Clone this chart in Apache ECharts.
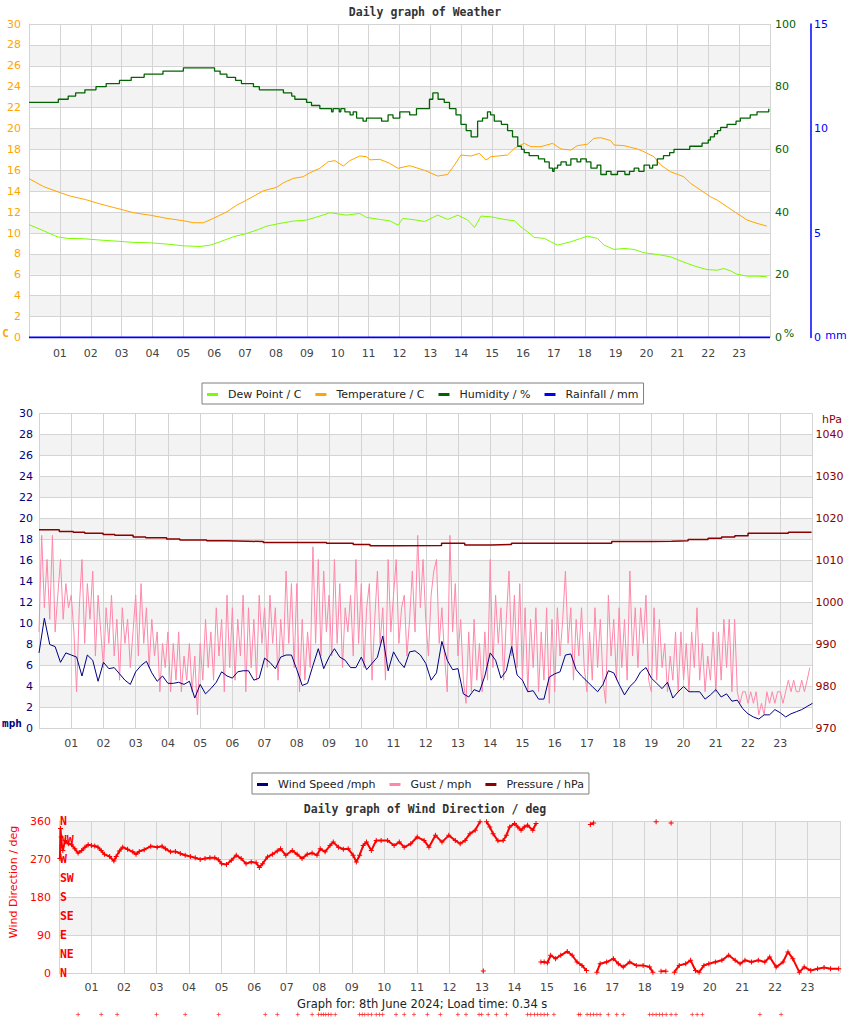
<!DOCTYPE html>
<html><head><meta charset="utf-8">
<script src="https://cdn.jsdelivr.net/npm/echarts@6/dist/echarts.min.js"></script>
<style>html,body{margin:0;padding:0;background:#fff}#c{width:850px;height:1017px}</style>
</head><body><div id="c"></div>
<script>
// ---------------- DATA ----------------
const hourLabels = ['01','02','03','04','05','06','07','08','09','10','11','12','13','14','15','16','17','18','19','20','21','22','23'];
const compassLabels = ['N','NE','E','SE','S','SW','W','NW','N'];

// Panel 1 (hour, value)
const temperature = [[0,15.2],[0.48,14.43],[1.02,13.85],[1.34,13.53],[1.83,13.2],[2.31,12.77],[2.85,12.36],[3.39,11.94],[3.93,11.7],[4.47,11.4],[5.01,11.17],[5.33,10.98],[5.65,10.98],[5.97,11.4],[6.41,12.03],[6.73,12.67],[7.05,13.15],[7.59,14.04],[8.02,14.37],[8.24,14.81],[8.56,15.23],[8.88,15.38],[9.1,15.77],[9.42,16.19],[9.69,16.82],[9.91,16.92],[10.18,16.41],[10.39,16.92],[10.71,17.37],[10.93,17.3],[11.04,17.0],[11.36,17.05],[11.68,16.67],[11.95,16.19],[12.33,16.44],[12.81,16.0],[13.24,15.45],[13.56,15.6],[13.78,16.5],[13.99,17.46],[14.32,17.37],[14.59,17.62],[14.8,16.98],[14.96,17.3],[15.5,17.46],[15.72,18.1],[15.93,18.42],[16.04,18.58],[16.26,18.26],[16.58,18.26],[16.96,18.58],[17.23,18.04],[17.55,17.94],[17.76,18.36],[18.09,18.5],[18.3,19.06],[18.52,19.12],[18.84,18.84],[18.95,18.42],[19.27,18.36],[19.7,18.04],[19.92,17.78],[20.24,17.3],[20.46,16.5],[20.78,15.86],[21.21,15.38],[21.43,14.75],[21.75,14.11],[22.07,13.47],[22.29,13.15],[22.61,12.51],[22.93,11.88],[23.26,11.24],[23.58,10.92],[23.9,10.66]];
const dewPoint = [[0,10.8],[0.48,10.21],[0.91,9.64],[1.24,9.48],[1.77,9.45],[2.31,9.32],[2.85,9.22],[3.39,9.1],[3.93,9.06],[4.47,8.94],[5.01,8.77],[5.54,8.71],[5.87,8.84],[6.19,9.16],[6.62,9.64],[7.05,9.96],[7.38,10.28],[7.7,10.66],[8.13,10.92],[8.56,11.14],[8.99,11.24],[9.42,11.62],[9.75,11.94],[10.28,11.71],[10.71,11.87],[10.93,11.49],[11.36,11.3],[11.68,11.17],[11.95,10.76],[12.11,11.4],[12.54,11.24],[12.81,11.1],[13.24,11.71],[13.56,11.3],[13.89,11.71],[14.21,11.24],[14.43,10.53],[14.64,11.62],[14.96,11.55],[15.39,11.3],[15.72,11.17],[15.93,10.6],[16.15,10.11],[16.36,9.58],[16.69,9.48],[16.9,9.16],[17.12,8.84],[17.33,9.0],[17.55,9.16],[17.87,9.48],[18.09,9.7],[18.41,9.48],[18.63,8.84],[18.95,8.43],[19.27,8.52],[19.6,8.43],[19.92,8.11],[20.35,7.95],[20.78,7.72],[20.99,7.47],[21.32,7.09],[21.64,6.76],[21.96,6.5],[22.29,6.44],[22.5,6.6],[22.72,6.38],[22.93,6.06],[23.26,5.87],[23.58,5.87],[23.9,5.81]];
const humidity = [[0,75],[0.95,76],[1.27,77],[1.51,78],[1.81,79],[2.17,80],[2.5,81],[2.93,82],[3.31,83],[3.73,84],[4.34,85],[5.0,86],[6.01,85],[6.19,84],[6.41,83],[6.69,82],[6.88,81],[7.27,80],[7.46,79],[8.24,78],[8.51,77],[8.61,76],[8.99,75],[9.15,74],[9.42,73],[9.8,72],[9.85,73],[10.05,72],[10.1,73],[10.23,72],[10.4,71],[10.5,72],[10.61,70],[10.82,69],[10.93,70],[11.42,69],[11.63,71],[11.79,70],[12.01,72],[12.33,71],[12.55,73],[12.97,76],[13.08,78],[13.25,76],[13.45,75],[13.62,73],[13.83,71],[13.99,68],[14.16,66],[14.32,64],[14.53,69],[14.69,70],[14.85,72],[14.95,71],[15.07,69],[15.3,68],[15.5,66],[15.66,64],[15.83,61],[15.95,60],[16.04,59],[16.2,58],[16.5,57],[16.7,56],[16.85,54],[16.96,53],[17.01,54],[17.12,55],[17.23,56],[17.4,55],[17.55,57],[17.75,56],[17.87,57],[18.05,56],[18.2,54],[18.4,55],[18.52,52],[18.7,53],[18.85,52],[19.06,53],[19.3,52],[19.45,53],[19.6,54],[19.75,53],[19.92,55],[20.1,54],[20.2,55],[20.35,57],[20.55,58],[20.75,59],[20.89,60],[21.4,61],[21.8,62],[22.0,63],[22.07,64],[22.2,65],[22.3,66],[22.4,67],[22.61,68],[22.9,69],[23.04,70],[23.36,71],[23.58,72],[23.96,73]];
const rainfall = [0,0,0,0,0,0,0,0,0,0,0,0,0,0,0,0,0,0,0,0,0,0,0,0,0]; // hourly, mm

// Panel 2
const windSpeed10min = [7.2,10.5,8.0,7.8,6.3,7.2,7.0,6.8,5.0,7.0,6.5,4.5,
6.3,5.7,5.8,5.2,4.6,4.2,5.4,6.0,6.4,5.3,4.5,5.0,
4.3,4.3,4.4,4.2,4.5,2.9,4.2,3.3,3.8,4.4,5.4,5.0,
4.8,5.4,5.5,5.5,4.6,4.8,6.7,6.3,5.7,6.8,7.0,7.0,
5.6,4.1,4.3,6.0,7.6,5.7,6.8,7.6,6.8,6.5,5.8,5.8,
6.8,5.6,6.2,6.8,8.8,5.5,7.3,6.4,5.8,7.3,7.4,7.0,
6.2,4.6,5.3,8.3,6.5,5.6,5.7,3.3,3.0,3.7,3.5,5.0,
7.2,6.5,4.8,5.5,7.8,5.1,4.6,3.5,3.6,2.8,2.8,4.9,
5.2,5.4,7.0,7.1,5.6,5.0,4.5,4.0,3.5,4.2,5.5,5.3,
4.2,3.2,4.0,4.5,5.4,5.8,4.8,4.3,3.8,4.4,2.9,3.5,
4.0,3.5,3.5,3.5,2.8,3.2,3.7,3.0,3.3,2.6,2.7,1.9,
1.4,1.1,0.9,1.3,1.3,1.8,1.5,1.1,1.4,1.6,1.8,2.1,2.4];
const gust5min = [9.2,18.4,11.5,16.1,10.4,18.4,9.2,12.7,16.1,10.4,13.8,11.5,
12.7,9.2,3.5,11.5,16.1,8.1,13.8,10.4,15.0,6.9,12.7,9.2,
5.8,11.5,8.1,12.7,6.9,10.4,4.6,11.5,8.1,10.4,5.8,9.2,
12.7,6.9,13.8,8.1,11.5,5.8,10.4,6.9,9.2,3.5,8.1,5.8,
9.2,3.5,8.1,4.6,9.2,3.5,6.9,4.6,8.1,3.5,6.9,1.3,
8.1,4.6,10.4,5.8,9.2,4.6,11.5,6.9,10.4,3.5,12.7,5.8,
11.5,4.6,10.4,6.9,12.7,3.5,11.5,5.8,10.4,4.6,12.7,8.1,
11.5,5.8,12.7,8.1,11.5,4.6,10.4,6.9,15.0,8.1,13.8,5.8,
13.8,3.5,10.4,4.6,9.2,5.8,17.3,8.1,16.1,6.9,15.0,9.2,
12.7,6.9,16.1,8.1,13.8,5.8,11.5,9.2,12.7,6.9,16.1,8.1,
13.8,5.8,11.5,13.8,4.6,10.4,15.0,8.1,11.5,4.6,16.1,9.2,
12.7,16.1,8.1,11.5,12.7,6.9,10.4,15.0,9.2,18.4,11.5,16.1,
10.4,6.9,12.7,15.0,16.1,8.1,11.5,6.9,3.5,18.4,9.2,13.8,
6.9,10.4,4.6,2.4,9.2,3.5,10.4,4.6,8.1,3.5,9.2,4.6,
16.1,5.8,12.7,8.1,11.5,4.6,10.4,15.0,6.9,12.7,5.8,13.8,
4.6,11.5,3.5,10.4,5.8,11.5,3.5,9.2,4.6,11.5,2.4,10.4,
3.5,11.5,6.9,10.4,15.0,8.1,11.5,4.6,10.4,6.9,11.5,5.8,
3.5,9.2,4.6,11.5,5.8,10.4,4.6,2.4,12.7,6.9,10.4,4.6,
11.5,5.8,10.4,4.6,15.0,6.9,11.5,5.8,11.5,8.1,12.7,4.6,
3.5,11.5,4.6,10.4,5.8,8.1,3.5,6.9,4.6,9.2,3.5,9.2,
4.6,8.1,3.5,9.2,5.8,11.5,4.6,8.1,3.5,6.9,4.6,9.2,
3.5,9.2,4.6,10.4,5.8,10.4,3.5,10.4,3.5,2.4,3.5,3.5,
2.4,3.5,2.4,3.5,1.3,2.4,1.3,3.5,2.4,3.5,2.4,3.5,
3.5,2.4,3.5,4.6,3.5,4.6,3.5,3.5,4.6,3.5,4.6,5.8];
const pressure = [[0,1017.3],[0.63,1016.9],[1.06,1016.7],[1.42,1016.5],[1.99,1016.2],[2.35,1016.0],[2.92,1015.6],[3.31,1015.4],[3.96,1015.1],[4.37,1014.9],[5.2,1014.7],[5.82,1014.6],[6.49,1014.5],[6.96,1014.3],[8.92,1014.1],[9.75,1013.8],[10.27,1013.5],[10.99,1013.6],[12.49,1014.1],[13.21,1013.7],[14.04,1013.8],[14.66,1014.1],[16.42,1014.1],[17.77,1014.5],[19.0,1014.6],[19.63,1014.7],[20.14,1015.0],[20.76,1015.3],[21.18,1015.6],[21.59,1015.9],[22.0,1016.5],[23.25,1016.7],[23.97,1016.7]];

// Panel 3 (hour, degrees)
const windDirection = [[0.03,271],[0.05,342],[0.07,322],[0.09,302],[0.12,290],[0.19,314],[0.29,306],[0.39,304],[0.49,294],[0.59,284],[0.70,290],[0.80,298],[0.90,304],[1.00,302],[1.10,301],[1.20,298],[1.30,290],[1.40,281],[1.56,276],[1.69,265],[1.76,276],[1.86,289],[1.96,298],[2.11,293],[2.27,287],[2.37,281],[2.47,288],[2.62,292],[2.82,300],[3.02,298],[3.17,300],[3.28,294],[3.43,287],[3.58,288],[3.73,283],[3.88,279],[4.04,276],[4.19,273],[4.34,269],[4.49,271],[4.64,273],[4.79,273],[4.90,268],[5.00,259],[5.15,257],[5.30,267],[5.45,279],[5.60,271],[5.75,259],[5.91,263],[6.06,261],[6.16,250],[6.26,259],[6.41,275],[6.56,281],[6.71,289],[6.81,294],[6.97,279],[7.17,290],[7.32,281],[7.47,271],[7.63,281],[7.78,284],[7.93,279],[8.03,294],[8.18,287],[8.33,302],[8.43,310],[8.59,298],[8.74,293],[8.89,294],[9.04,279],[9.14,263],[9.24,279],[9.35,302],[9.45,310],[9.60,290],[9.75,314],[9.90,314],[10.10,314],[10.30,302],[10.46,310],[10.61,298],[10.81,306],[11.01,322],[11.22,314],[11.37,298],[11.57,326],[11.77,310],[11.98,326],[12.18,314],[12.33,306],[12.48,314],[12.63,330],[12.79,338],[12.94,358],[13.04,5],[13.14,358],[13.24,346],[13.34,330],[13.49,313],[13.65,314],[13.75,326],[13.85,346],[14.0,354],[14.1,346],[14.2,338],[14.3,346],[14.4,350],[14.56,338],[14.66,354],[14.81,26],[14.91,26],[15.01,24],[15.11,42],[15.26,34],[15.42,42],[15.62,51],[15.77,42],[15.92,26],[16.07,18],[16.21,6],[16.33,352],[16.43,355],[16.53,2],[16.63,22],[16.83,26],[17.04,34],[17.19,22],[17.34,14],[17.54,26],[17.74,18],[17.95,18],[18.15,14],[18.25,2],[18.35,358],[18.50,4],[18.65,4],[18.81,355],[18.91,2],[19.06,18],[19.26,22],[19.41,30],[19.56,6],[19.67,2],[19.82,18],[19.97,22],[20.17,26],[20.37,30],[20.58,42],[20.78,30],[20.93,22],[21.08,30],[21.28,26],[21.49,30],[21.69,26],[21.84,38],[22.04,14],[22.25,26],[22.40,50],[22.55,34],[22.75,2],[22.90,14],[23.10,6],[23.31,10],[23.51,13],[23.71,10],[23.96,10]];
const calmHours = [0.59,1.30,1.79,3.0,3.88,4.91,6.34,6.71,7.34,7.78,7.98,8.06,8.13,8.2,8.28,8.36,8.49,9.24,9.32,9.40,9.5,9.60,9.75,9.85,9.95,10.36,10.61,10.91,11.32,11.72,12.26,12.51,12.91,12.99,13.19,13.44,13.75,14.40,14.5,14.61,14.71,14.81,14.91,15.01,15.21,15.97,16.02,16.23,16.33,16.43,16.53,16.63,16.88,17.14,17.34,18.15,18.25,18.35,18.45,18.55,18.66,18.81,18.96,19.46,19.61,19.77,21.54,22.19];
const calmDirection = -98;

// ---------------- CHART ----------------
const F = 'DejaVu Sans', FM = 'DejaVu Sans Mono';
const GRID = '#d4d4d4', BAND = ['#ffffff', '#f3f3f3'];
const PLUS = 'path://M2,0H3V2H5V3H3V5H2V3H0V2H2Z';
const chart = echarts.init(document.getElementById('c'), null, {renderer: 'svg'});

// break the direction trace where it wraps round N (no connecting line across the plot)
const directionTrace = [];
windDirection.forEach((p, i) => {
  if (i > 0 && Math.abs(p[1] - windDirection[i - 1][1]) > 90) directionTrace.push([p[0], null]);
  directionTrace.push(p);
});

function xAxisFor(gi, margin) {
  return {type: 'value', gridIndex: gi, min: 0, max: 24, interval: 1,
    axisLine: {show: false}, axisTick: {show: false},
    splitLine: {show: true, lineStyle: {color: GRID, width: 1}},
    axisLabel: {color: '#444', fontSize: 11, fontFamily: F, margin: margin,
      formatter: v => (v >= 1 && v <= 23) ? hourLabels[v - 1] : ''}};
}
const titleStyle = {fontFamily: FM, fontWeight: 'bold', fontSize: 11.5, color: '#333'};
const legendCommon = {orient: 'horizontal', icon: 'rect', itemWidth: 11, itemHeight: 3, itemGap: 14,
  backgroundColor: '#fff', borderColor: '#7f7f7f', borderWidth: 1, z: 10,
  textStyle: {fontFamily: F, fontSize: 11, color: '#222', padding: [0, 0, 0, 5]}};

const option = {
  animation: false,
  backgroundColor: '#fff',
  title: [
    {text: 'Daily graph of Weather', left: 'center', top: 6, padding: 0, textStyle: titleStyle},
    {text: 'Daily graph of Wind Direction / deg', left: 'center', top: 802.5, padding: 0, textStyle: titleStyle},
    {text: 'Graph for: 8th June 2024; Load time: 0.34 s', left: 297, top: 998, padding: 0,
      textStyle: {fontFamily: F, fontSize: 11.5, fontWeight: 'normal', color: '#222'}}
  ],
  legend: [
    Object.assign({}, legendCommon, {left: 202, top: 383, padding: [6, 5, 4, 5],
      data: ['Dew Point / C', 'Temperature / C', 'Humidity / %', 'Rainfall / mm']}),
    Object.assign({}, legendCommon, {left: 252, top: 773, padding: [6, 5, 4, 5],
      data: ['Wind Speed /mph', 'Gust / mph', 'Pressure / hPa']})
  ],
  grid: [
    {left: 29, top: 24, width: 741, height: 313.5},
    {left: 39, top: 413.5, width: 773.5, height: 315},
    {left: 51, top: 821, width: 789, height: 152}
  ],
  xAxis: [xAxisFor(0, 10), xAxisFor(1, 9), xAxisFor(2, 9)],
  yAxis: [
    {type: 'value', gridIndex: 0, position: 'left', min: 0, max: 30, interval: 2,
      axisLine: {show: true, lineStyle: {color: GRID}}, axisTick: {show: false},
      axisLabel: {color: '#ffa500', fontSize: 11, fontFamily: F, margin: 8},
      splitLine: {show: true, lineStyle: {color: GRID}}, splitArea: {show: true, areaStyle: {color: BAND}}},
    {type: 'value', gridIndex: 0, position: 'right', min: 0, max: 100, interval: 20,
      axisLine: {show: false}, axisTick: {show: false}, splitLine: {show: false},
      axisLabel: {color: '#006400', fontSize: 11, fontFamily: F, margin: 5}},
    {type: 'value', gridIndex: 0, position: 'right', offset: 41, min: 0, max: 15, interval: 5,
      axisLine: {show: true, lineStyle: {color: '#0000ff', width: 1.5}}, axisTick: {show: false}, splitLine: {show: false},
      axisLabel: {color: '#0000ff', fontSize: 11, fontFamily: F, margin: 3}},
    {type: 'value', gridIndex: 1, position: 'left', min: 0, max: 30, interval: 2,
      axisLine: {show: true, lineStyle: {color: GRID}}, axisTick: {show: false},
      axisLabel: {color: '#000080', fontSize: 11, fontFamily: F, margin: 6},
      splitLine: {show: true, lineStyle: {color: GRID}}, splitArea: {show: true, areaStyle: {color: BAND}}},
    {type: 'value', gridIndex: 1, position: 'right', min: 970, max: 1045, interval: 10,
      axisLine: {show: false}, axisTick: {show: false}, splitLine: {show: false},
      axisLabel: {color: '#8b0000', fontSize: 11, fontFamily: F, margin: 3,
        formatter: v => (v % 10 === 0 ? String(v) : '')}},
    {type: 'value', gridIndex: 2, position: 'left', min: 0, max: 360, interval: 90,
      name: 'Wind Direction / deg', nameLocation: 'middle', nameGap: 36, nameRotate: 90,
      nameTextStyle: {color: '#ff0000', fontSize: 11, fontFamily: F, padding: [0, 0, 0, 30]},
      axisLine: {show: true, lineStyle: {color: GRID}}, axisTick: {show: false},
      axisLabel: {color: '#ff0000', fontSize: 11, fontFamily: F, margin: 8},
      splitLine: {show: true, lineStyle: {color: GRID}}, splitArea: {show: true, areaStyle: {color: BAND}}},
    {type: 'value', gridIndex: 2, position: 'left', min: 0, max: 360, interval: 45,
      axisLine: {show: false}, axisTick: {show: false}, splitLine: {show: false},
      axisLabel: {inside: true, margin: 1, color: '#ff0000', fontSize: 11.5, fontFamily: FM, fontWeight: 'bold',
        padding: [0, 0, 5, 0], formatter: v => compassLabels[v / 45]}}
  ],
  series: [
    {name: 'Rainfall / mm', type: 'line', xAxisIndex: 0, yAxisIndex: 2, symbol: 'none', z: 5,
      lineStyle: {color: '#0000ff', width: 2}, itemStyle: {color: '#0000ff'},
      data: rainfall.map((v, i) => [i, v])},
    {name: 'Dew Point / C', type: 'line', xAxisIndex: 0, yAxisIndex: 0, symbol: 'none',
      lineStyle: {color: '#7cfc00', width: 1}, itemStyle: {color: '#7cfc00'}, data: dewPoint},
    {name: 'Temperature / C', type: 'line', xAxisIndex: 0, yAxisIndex: 0, symbol: 'none',
      lineStyle: {color: '#ffa500', width: 1}, itemStyle: {color: '#ffa500'}, data: temperature},
    {name: 'Humidity / %', type: 'line', step: 'end', xAxisIndex: 0, yAxisIndex: 1, symbol: 'none',
      lineStyle: {color: '#006400', width: 1.3}, itemStyle: {color: '#006400'}, data: humidity},
    {name: 'Gust / mph', type: 'line', xAxisIndex: 1, yAxisIndex: 3, symbol: 'none', z: 2,
      lineStyle: {color: '#ff88aa', width: 1}, itemStyle: {color: '#ff88aa'},
      data: gust5min.map((v, i) => [i / 12, v])},
    {name: 'Wind Speed /mph', type: 'line', xAxisIndex: 1, yAxisIndex: 3, symbol: 'none', z: 3,
      lineStyle: {color: '#000080', width: 1}, itemStyle: {color: '#000080'},
      data: windSpeed10min.map((v, i) => [i / 6, v])},
    {name: 'Pressure / hPa', type: 'line', step: 'end', xAxisIndex: 1, yAxisIndex: 4, symbol: 'none', z: 4,
      lineStyle: {color: '#8b0000', width: 1.5}, itemStyle: {color: '#8b0000'}, data: pressure},
    {name: 'Wind Direction', type: 'line', xAxisIndex: 2, yAxisIndex: 5, connectNulls: false,
      symbol: PLUS, symbolSize: 5, showAllSymbol: true,
      lineStyle: {color: '#ff0000', width: 2}, itemStyle: {color: '#ff0000'}, data: directionTrace},
    {name: 'Calm', type: 'scatter', xAxisIndex: 2, yAxisIndex: 5, clip: false,
      symbol: PLUS, symbolSize: 4,
      itemStyle: {color: '#ff0000'}, data: calmHours.map(h => [h, calmDirection])}
  ],
  graphic: [
    {type: 'text', x: 5.5, y: 333, style: {text: 'C', fill: '#ffa500', font: 'bold 11px "DejaVu Sans Mono"', align: 'center', verticalAlign: 'middle'}},
    {type: 'text', x: 789, y: 333, style: {text: '%', fill: '#006400', font: '11px "DejaVu Sans"', align: 'center', verticalAlign: 'middle'}},
    {type: 'text', x: 836, y: 335, style: {text: 'mm', fill: '#0000ff', font: '11px "DejaVu Sans"', align: 'center', verticalAlign: 'middle'}},
    {type: 'text', x: 12, y: 723.5, style: {text: 'mph', fill: '#000080', font: 'bold 11px "DejaVu Sans Mono"', align: 'center', verticalAlign: 'middle'}},
    {type: 'text', x: 832, y: 419, style: {text: 'hPa', fill: '#8b0000', font: '11px "DejaVu Sans"', align: 'center', verticalAlign: 'middle'}}
  ]
};
chart.setOption(option);
</script>
</body></html>
